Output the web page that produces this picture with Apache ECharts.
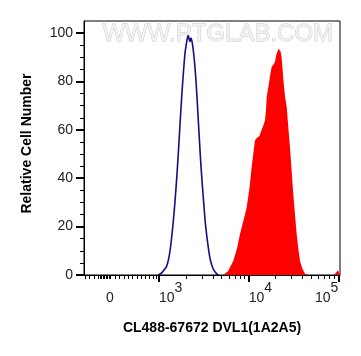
<!DOCTYPE html>
<html>
<head>
<meta charset="utf-8">
<script src="https://cdn.jsdelivr.net/npm/echarts@6/dist/echarts.min.js"></script>
<style>
html,body{margin:0;padding:0;background:#fff;}
#c{width:361px;height:356px;}
</style>
</head>
<body>
<div id="c"></div>
<script>
// x values are in display decades (biexponential display: 3 = 10^3, 4 = 10^4, 5 = 10^5)
const ZERO_POS = 2.452;
const xMajorTicks = [3, 4, 5];
const xLabelValues = [ZERO_POS, 3, 4, 5];
const xLabelExp = ['', '3', '4', '5'];
const xLinearMinorTicks = [2.175, 2.225, 2.275, 2.326, 2.342, 2.359, 2.376, 2.392, 2.409, 2.426, 2.443, 2.459,
  2.509, 2.560, 2.610, 2.658, 2.705, 2.755, 2.805, 2.852, 2.896, 2.933, 2.967];
const logMinorMultipliers = [2, 3, 4, 5, 6, 7, 8, 9];
const yMajorTicks = [0, 20, 40, 60, 80, 100];
const yMinorTicks = [5, 10, 15, 25, 30, 35, 45, 50, 55, 65, 70, 75, 85, 90, 95];

// Isotype control (blue outline)
const blueX = [2.992, 3.033, 3.086, 3.123, 3.159, 3.190, 3.215, 3.234, 3.253, 3.273, 3.290, 3.307, 3.320, 3.327,
  3.336, 3.346, 3.357, 3.365, 3.373, 3.382, 3.396, 3.412, 3.429, 3.449, 3.468, 3.494, 3.518, 3.550, 3.574, 3.605, 3.635, 3.661];
const blueY = [0, 1, 3.7, 10, 22, 36, 50, 62, 73.6, 84, 91.7, 96, 98.5, 99,
  97.5, 96.5, 98, 97, 95.5, 93, 88, 80.5, 70, 57, 45, 32, 21, 11.3, 6, 2.5, 0.8, 0];

// DVL1 stained sample (red filled)
const redX = [3.717, 3.769, 3.828, 3.870, 3.903, 3.942, 3.978, 4.009, 4.033, 4.054, 4.070, 4.087, 4.104, 4.120,
  4.145, 4.165, 4.182, 4.193, 4.201, 4.221, 4.237, 4.256, 4.276, 4.293, 4.308, 4.319, 4.332, 4.341, 4.355, 4.367,
  4.382, 4.394, 4.408, 4.424, 4.442, 4.460, 4.479, 4.497, 4.516, 4.535, 4.553, 4.572, 4.600, 4.628, 4.664,
  4.951, 4.973, 4.996, 5.018];
const redY = [0, 1.5, 5.8, 11, 17, 22.5, 28, 36, 44.5, 51, 55.6, 56.5, 56.8, 57.5,
  60, 62, 64, 68, 73.6, 78, 82, 86, 87, 88, 91, 92.2, 93.5, 93.6, 92.5, 90,
  83, 77.7, 73, 69.4, 61, 52.8, 43, 33.6, 25, 17, 11, 5.8, 2.5, 0.5, 0,
  0, 0.8, 2, 2.5];

const xTitle = 'CL488-67672 DVL1(1A2A5)';
const yTitle = 'Relative Cell Number';
const watermark = 'WWW.PTGLAB.COM';

const X_MIN = 2.164, X_MAX = 5.018;
const logMinor = [];
[3, 4].forEach(d => logMinorMultipliers.forEach(m => logMinor.push(d + Math.log10(m))));
const xMinorTicks = xLinearMinorTicks.concat(logMinor);

const zip = (a, b) => a.map((v, i) => [v, b[i]]);
const FONT = 'Liberation Sans, Arial, sans-serif';

const chart = echarts.init(document.getElementById('c'), null, {renderer: 'canvas'});
chart.setOption({
  animation: false,
  backgroundColor: '#fff',
  grid: {left: 84, right: 21, top: 21, bottom: 81, show: true, borderColor: '#000', borderWidth: 1, backgroundColor: 'transparent'},
  graphic: [{
    type: 'text', left: 102, top: 22, z: 0,
    style: {text: watermark, font: '24px ' + FONT, fill: '#f2f2f2', stroke: '#c4c4c4', lineWidth: 0.8}
  }],
  xAxis: [{
    type: 'value', min: X_MIN, max: X_MAX, position: 'bottom',
    name: xTitle, nameLocation: 'middle', nameGap: 46,
    nameTextStyle: {fontFamily: FONT, fontSize: 14, fontWeight: 'bold', color: '#000'},
    axisLine: {show: true, onZero: false, lineStyle: {color: '#000', width: 1}},
    axisTick: {show: true, customValues: xMajorTicks, length: 7, lineStyle: {color: '#000', width: 2}},
    axisLabel: {
      show: true, customValues: xLabelValues, margin: 6, align: 'left',
      alignMinLabel: 'center', alignMaxLabel: 'right',
      formatter: function (v) {
        let idx = 0, best = Infinity;
        xLabelValues.forEach((t, i) => { const d = Math.abs(t - v); if (d < best) { best = d; idx = i; } });
        if (!xLabelExp[idx]) return '{n|0}';
        return '{b|10}{s|' + xLabelExp[idx] + '}';
      },
      rich: {
        n: {fontFamily: FONT, fontSize: 14, color: '#222', lineHeight: 24, verticalAlign: 'bottom'},
        b: {fontFamily: FONT, fontSize: 14, color: '#222', lineHeight: 24, verticalAlign: 'bottom'},
        s: {fontFamily: FONT, fontSize: 14, color: '#222', lineHeight: 24, verticalAlign: 'top'}
      }
    },
    splitLine: {show: false}
  }, {
    type: 'value', min: X_MIN, max: X_MAX, position: 'bottom', offset: 0,
    axisLine: {show: false},
    axisTick: {show: true, customValues: xMinorTicks, length: 4, lineStyle: {color: '#000', width: 1}},
    axisLabel: {show: false},
    splitLine: {show: false}
  }],
  yAxis: [{
    type: 'value', min: 0, max: 105, position: 'left',
    name: yTitle, nameLocation: 'middle', nameGap: 50, nameRotate: 90,
    nameTextStyle: {fontFamily: FONT, fontSize: 14, fontWeight: 'bold', color: '#000', padding: [0, 0, 0, 9]},
    axisLine: {show: true, lineStyle: {color: '#000', width: 1}},
    axisTick: {show: true, customValues: yMajorTicks, length: 8, lineStyle: {color: '#000', width: 2}},
    axisLabel: {show: true, customValues: yMajorTicks, margin: 11, fontFamily: FONT, fontSize: 14, color: '#222'},
    splitLine: {show: false}
  }, {
    type: 'value', min: 0, max: 105, position: 'left', offset: 0,
    axisLine: {show: false},
    axisTick: {show: true, customValues: yMinorTicks, length: 4, lineStyle: {color: '#000', width: 1}},
    axisLabel: {show: false},
    splitLine: {show: false}
  }],
  series: [{
    type: 'line', xAxisIndex: 0, yAxisIndex: 0, data: zip(redX, redY),
    showSymbol: false, smooth: false, z: 2,
    lineStyle: {width: 0, color: '#ff0000'},
    areaStyle: {color: '#ff0000', opacity: 1}
  }, {
    type: 'line', xAxisIndex: 0, yAxisIndex: 0, data: zip(blueX, blueY),
    showSymbol: false, smooth: 0.3, z: 3,
    lineStyle: {width: 1.6, color: '#10107f'}
  }]
});
</script>
</body>
</html>
